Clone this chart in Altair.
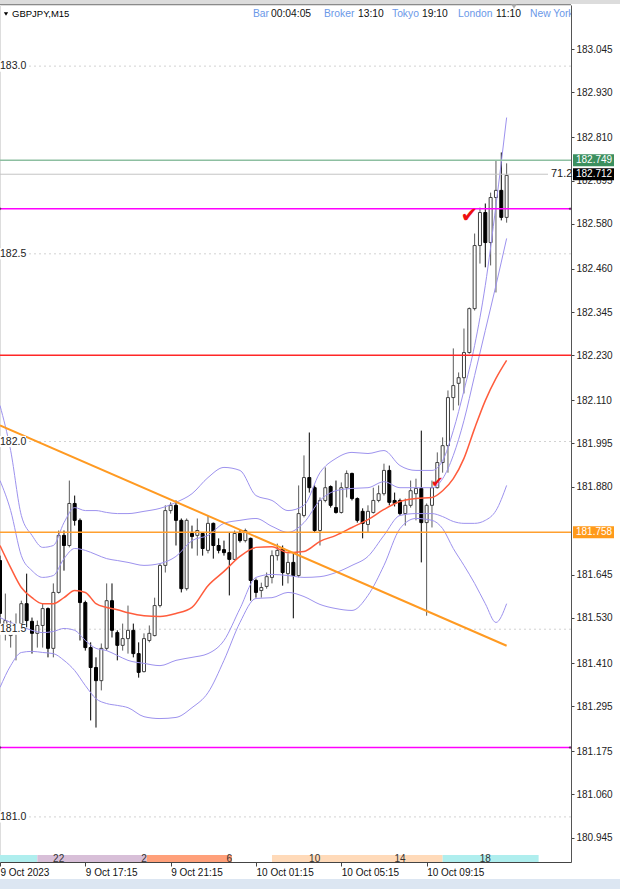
import altair as alt
import pandas as pd

# ---------------- data (GBPJPY M15, bar 0 = 9 Oct 2023 13:15) ----------------
opens = [181.683, 181.510, 181.483, 181.497, 181.515, 181.568, 181.521, 181.489, 181.510, 181.555,
         181.449, 181.598, 181.750, 181.723, 181.835, 181.790, 181.571, 181.451, 181.398, 181.363,
         181.449, 181.576, 181.491, 181.457, 181.475, 181.497, 181.435, 181.387, 181.470, 181.483,
         181.563, 181.670, 181.816, 181.830, 181.790, 181.608, 181.755, 181.750, 181.755, 181.710,
         181.782, 181.723, 181.712, 181.704, 181.686, 181.755, 181.736, 181.742, 181.630, 181.603,
         181.614, 181.638, 181.696, 181.715, 181.648, 181.678, 181.643, 181.803, 181.904, 181.877,
         181.763, 181.843, 181.880, 181.824, 181.811, 181.877, 181.915, 181.848, 181.814, 181.779,
         181.811, 181.843, 181.861, 181.923, 181.843, 181.843, 181.808, 181.830, 181.861, 181.875,
         181.784, 181.830, 181.877, 181.944, 181.989, 182.117, 182.155, 182.170, 182.237, 182.354,
         182.522, 182.610, 182.530, 182.650, 182.669, 182.597]
highs = [181.696, 181.595, 181.523, 181.542, 181.576, 181.648, 181.531, 181.523, 181.568, 181.558,
         181.622, 181.763, 181.763, 181.896, 181.856, 181.795, 181.576, 181.465, 181.425, 181.462,
         181.622, 181.622, 181.497, 181.515, 181.563, 181.515, 181.465, 181.489, 181.510, 181.584,
         181.675, 181.830, 181.838, 181.843, 181.795, 181.795, 181.776, 181.795, 181.758, 181.803,
         181.784, 181.742, 181.736, 181.758, 181.763, 181.766, 181.768, 181.744, 181.635, 181.624,
         181.651, 181.710, 181.728, 181.723, 181.702, 181.702, 181.883, 181.963, 182.024, 181.883,
         181.851, 181.931, 181.883, 181.896, 181.891, 181.923, 181.917, 181.851, 181.822, 181.830,
         181.877, 181.883, 181.941, 181.936, 181.864, 181.848, 181.848, 181.896, 181.901, 182.029,
         181.835, 181.896, 181.971, 182.011, 182.136, 182.248, 182.184, 182.301, 182.357, 182.554,
         182.623, 182.634, 182.663, 182.749, 182.770, 182.741]
lows = [181.510, 181.470, 181.451, 181.417, 181.491, 181.505, 181.435, 181.451, 181.451, 181.425,
        181.425, 181.595, 181.656, 181.718, 181.776, 181.470, 181.443, 181.257, 181.238, 181.337,
        181.443, 181.478, 181.417, 181.443, 181.435, 181.425, 181.371, 181.385, 181.465, 181.481,
        181.558, 181.651, 181.808, 181.723, 181.598, 181.603, 181.715, 181.696, 181.696, 181.702,
        181.688, 181.702, 181.696, 181.590, 181.683, 181.731, 181.731, 181.576, 181.584, 181.584,
        181.608, 181.622, 181.683, 181.616, 181.622, 181.529, 181.638, 181.798, 181.864, 181.758,
        181.723, 181.838, 181.824, 181.808, 181.808, 181.851, 181.843, 181.784, 181.742, 181.758,
        181.808, 181.838, 181.856, 181.830, 181.827, 181.803, 181.776, 181.824, 181.790, 181.678,
        181.536, 181.771, 181.875, 181.917, 181.917, 182.083, 182.096, 182.128, 182.234, 182.349,
        182.474, 182.464, 182.469, 182.397, 182.589, 182.583]
closes = [181.542, 181.523, 181.491, 181.505, 181.568, 181.523, 181.489, 181.510, 181.555, 181.449,
          181.598, 181.750, 181.723, 181.835, 181.790, 181.571, 181.451, 181.398, 181.363, 181.449,
          181.576, 181.497, 181.457, 181.475, 181.497, 181.435, 181.385, 181.475, 181.489, 181.563,
          181.670, 181.816, 181.830, 181.790, 181.608, 181.790, 181.747, 181.763, 181.715, 181.782,
          181.723, 181.710, 181.704, 181.686, 181.755, 181.736, 181.763, 181.630, 181.598, 181.611,
          181.640, 181.696, 181.710, 181.651, 181.678, 181.643, 181.808, 181.904, 181.877, 181.763,
          181.843, 181.877, 181.830, 181.811, 181.877, 181.915, 181.848, 181.790, 181.782, 181.814,
          181.843, 181.861, 181.923, 181.838, 181.835, 181.808, 181.830, 181.869, 181.875, 181.784,
          181.830, 181.877, 181.944, 181.989, 182.117, 182.149, 182.170, 182.237, 182.354, 182.522,
          182.610, 182.530, 182.650, 182.669, 182.597, 182.709]

# Bollinger-style envelope (bar index -> price)
band_idx = [0, 2, 4, 6, 8, 10, 12, 14, 16, 18, 20, 22, 24, 27, 30, 33, 36, 39, 42, 45,
            48, 51, 54, 57, 60, 63, 66, 69, 72, 75, 78, 81, 83, 85, 87, 89, 91, 93, 95]
upper2 = [182.096, 181.976, 181.803, 181.750, 181.718, 181.723, 181.784, 181.824, 181.816, 181.816,
          181.811, 181.808, 181.808, 181.814, 181.822, 181.838, 181.861, 181.904, 181.931, 181.923,
          181.856, 181.843, 181.816, 181.830, 181.917, 181.955, 181.971, 181.968, 181.976, 181.936,
          181.923, 181.923, 181.949, 182.029, 182.136, 182.256, 182.416, 182.629, 182.863]
upper1 = [181.896, 181.816, 181.696, 181.656, 181.638, 181.643, 181.688, 181.715, 181.710, 181.699,
          181.688, 181.683, 181.678, 181.670, 181.675, 181.694, 181.736, 181.750, 181.782, 181.790,
          181.795, 181.774, 181.758, 181.784, 181.843, 181.869, 181.875, 181.877, 181.893, 181.877,
          181.877, 181.877, 181.901, 181.963, 182.056, 182.176, 182.296, 182.416, 182.541]
middle = [181.723, 181.664, 181.611, 181.584, 181.568, 181.568, 181.584, 181.603, 181.598, 181.568,
          181.558, 181.552, 181.544, 181.536, 181.534, 181.542, 181.558, 181.616, 181.654, 181.694,
          181.718, 181.720, 181.704, 181.707, 181.734, 181.750, 181.771, 181.792, 181.819, 181.840,
          181.848, 181.851, 181.869, 181.901, 181.955, 182.035, 182.109, 182.168, 182.216]
lower1 = [181.531, 181.518, 181.507, 181.497, 181.491, 181.494, 181.502, 181.497, 181.470, 181.449,
          181.443, 181.430, 181.417, 181.409, 181.403, 181.417, 181.425, 181.435, 181.470, 181.555,
          181.638, 181.646, 181.643, 181.638, 181.640, 181.651, 181.670, 181.694, 181.750, 181.803,
          181.808, 181.808, 181.800, 181.787, 181.782, 181.782, 181.790, 181.816, 181.883]
lower2 = [181.345, 181.403, 181.438, 181.441, 181.438, 181.435, 181.417, 181.390, 181.350, 181.315,
          181.302, 181.297, 181.291, 181.267, 181.262, 181.265, 181.291, 181.331, 181.417, 181.518,
          181.582, 181.584, 181.598, 181.587, 181.566, 181.555, 181.550, 181.590, 181.670, 181.768,
          181.795, 181.790, 181.768, 181.715, 181.670, 181.622, 181.568, 181.518, 181.568]

trend_idx = [0, 95]
trend_price = [182.043, 181.456]

level_price = [182.749, 182.620, 182.230, 181.758, 181.185]
level_color = ["#8dbfa1", "#ff00ff", "#ff2626", "#ffa030", "#ff00ff"]

bid_price = 182.712
bid_note = "71.2"

round_levels = [183.0, 182.5, 182.0, 181.5, 181.0]
round_labels = ["183.0", "182.5", "182.0", "181.5", "181.0"]

price_ticks = [183.045, 182.930, 182.810, 182.695, 182.580, 182.460, 182.345, 182.230, 182.110,
               181.995, 181.880, 181.645, 181.530, 181.410, 181.295, 181.175, 181.060, 180.945]
price_boxes = [182.749, 182.712, 181.758]
price_box_colors = ["#3b8f5e", "#000000", "#ff9a1a"]

time_tick_idx = [0, 16, 32, 48, 64, 80]
time_tick_labels = ["9 Oct 2023", "9 Oct 17:15", "9 Oct 21:15", "10 Oct 01:15", "10 Oct 05:15", "10 Oct 09:15"]

sess_start = [0, 7, 27.5, 51, 83]
sess_end = [7, 27.5, 43.5, 83, 101]
sess_colors = ["#afeeee", "#d8bfd8", "#ffa07a", "#ffdab9", "#afeeee"]
hour_idx = [11, 27, 43, 59, 75, 91]
hour_labels = ["22", "2", "6", "10", "14", "18"]

check_idx = [88.0, 82.0]
check_price = [182.600, 181.893]

symbol_title = "GBPJPY,M15"
clock_words = ["Bar", "00:04:05", "Broker", "13:10", "Tokyo", "19:10", "London", "11:10", "New York"]

# ---------------- layout ----------------
W, H = 571, 857
FONT = "Liberation Sans"
xscale = alt.Scale(domain=[0, 107.07], nice=False, zero=False, padding=0)
yscale = alt.Scale(domain=[180.8799, 183.1628], nice=False, zero=False, padding=0)

label_expr = " : ".join(
    f"datum.value == {v} ? '{t}'" for v, t in zip(time_tick_idx, time_tick_labels)
) + " : ''"
xaxis = alt.Axis(values=time_tick_idx, labelExpr=label_expr, title=None, grid=False,
                 labelAlign="left", labelBaseline="top", labelFlush=False, labelOverlap=False,
                 tickSize=4, labelPadding=1, labelFontSize=10, labelFont=FONT,
                 labelColor="#111", domainColor="#444", tickColor="#444")
yaxis = alt.Axis(orient="right", values=price_ticks, format=".3f", title=None, grid=False,
                 labelFlush=False, labelOverlap=False, tickSize=3, labelPadding=2,
                 labelFontSize=10, labelFont=FONT, labelColor="#222",
                 domainColor="#555", tickColor="#444")


def X(f):
    return alt.X(f"{f}:Q", scale=xscale, axis=xaxis)


def Y(f):
    return alt.Y(f"{f}:Q", scale=yscale, axis=yaxis)


candles = pd.DataFrame({"k": range(len(opens)), "o": opens, "h": highs, "l": lows, "c": closes})
up = "datum.c >= datum.o"

grid = alt.Chart(pd.DataFrame({"p": round_levels})).mark_rule(
    color="#d2d2d2", strokeDash=[2, 3], strokeWidth=1).encode(y=Y("p"))

sess = pd.DataFrame({"s": sess_start, "e": sess_end, "col": sess_colors})
sess_layer = alt.Chart(sess).mark_rect().encode(
    x=X("s"), x2="e:Q", y=alt.value(850), y2=alt.value(857),
    color=alt.Color("col:N", scale=None))
hours = alt.Chart(pd.DataFrame({"k": hour_idx, "t": hour_labels})).mark_text(
    font=FONT, fontSize=10, color="#333", baseline="middle").encode(
    x=X("k"), y=alt.value(853.5), text="t:N")

wicks = alt.Chart(candles).mark_rule(strokeWidth=1).encode(
    x=X("k"), y=Y("l"), y2="h:Q",
    color=alt.condition(up, alt.value("#5a5a5a"), alt.value("#000000")))
bodies = alt.Chart(candles).mark_bar(width=3, strokeWidth=1).encode(
    x=X("k"), y=Y("o"), y2="c:Q",
    fill=alt.condition(up, alt.value("#ffffff"), alt.value("#000000")),
    stroke=alt.condition(up, alt.value("#404040"), alt.value("#000000")))

band_rows = []
for name, vals in [("u2", upper2), ("u1", upper1), ("l1", lower1), ("l2", lower2)]:
    for k, v in zip(band_idx, vals):
        band_rows.append({"k": k, "p": v, "line": name})
bands = alt.Chart(pd.DataFrame(band_rows)).mark_line(
    color="#9d92ee", strokeWidth=1, interpolate="monotone", clip=True).encode(
    x=X("k"), y=Y("p"), detail="line:N")
mid = alt.Chart(pd.DataFrame({"k": band_idx, "p": middle})).mark_line(
    color="#ff5c3c", strokeWidth=1.5, interpolate="monotone").encode(x=X("k"), y=Y("p"))

trend = alt.Chart(pd.DataFrame({"k": trend_idx, "p": trend_price})).mark_line(
    color="#ff9a22", strokeWidth=2).encode(x=X("k"), y=Y("p"))

levels = alt.Chart(pd.DataFrame({"p": level_price, "col": level_color})).mark_rule(
    strokeWidth=1.5).encode(y=Y("p"), color=alt.Color("col:N", scale=None))
anchors = alt.Chart(pd.DataFrame({"k": [0, 106.9, 0, 106.9],
                                  "p": [level_price[1], level_price[1], level_price[4], level_price[4]]})
                    ).mark_point(shape="diamond", filled=True, size=10, color="#333").encode(
    x=X("k"), y=Y("p"))

bid = alt.Chart(pd.DataFrame({"p": [bid_price]})).mark_rule(color="#c4c4c4", strokeWidth=1).encode(
    x=alt.value(0), x2=alt.value(548), y=Y("p"))
bid_txt = alt.Chart(pd.DataFrame({"p": [bid_price], "t": [bid_note]})).mark_text(
    font=FONT, fontSize=11, color="#222", align="left", baseline="middle").encode(
    x=alt.value(551), y=Y("p"), text="t:N")

checks = alt.Chart(pd.DataFrame({"k": check_idx, "p": check_price, "s": [21, 15]})).mark_text(
    font="DejaVu Sans", color="#ee1111", baseline="middle").encode(
    x=X("k"), y=Y("p"), text=alt.value("\u2714"), size=alt.Size("s:Q", scale=None))

rl = pd.DataFrame({"p": round_levels, "t": round_labels})
rl_bg = alt.Chart(rl).transform_calculate(lo="datum.p - 0.015", hi="datum.p + 0.015").mark_rect(
    color="#ffffff").encode(x=alt.value(0), x2=alt.value(26), y=Y("lo"), y2="hi:Q")
rl_txt = alt.Chart(rl).mark_text(font=FONT, fontSize=10.5, color="#222", align="left",
                                 baseline="middle").encode(x=alt.value(0), y=Y("p"), text="t:N")

bx = pd.DataFrame({"p": price_boxes, "col": price_box_colors,
                   "t": [f"{v:.3f}" for v in price_boxes]})
box_rect = alt.Chart(bx).transform_calculate(lo="datum.p - 0.016", hi="datum.p + 0.016").mark_rect().encode(
    x=alt.value(573), x2=alt.value(614), y=Y("lo"), y2="hi:Q",
    color=alt.Color("col:N", scale=None))
box_txt = alt.Chart(bx).mark_text(font=FONT, fontSize=10, color="#ffffff", align="left",
                                  baseline="middle").encode(x=alt.value(576), y=Y("p"), text="t:N")

# header / frame pieces
top_strip = alt.Chart(pd.DataFrame({"a": [0]})).mark_rect(color="#dcdcdc").encode(
    x=alt.value(0), x2=alt.value(620), y=alt.value(-5), y2=alt.value(-1))
top_line = alt.Chart(pd.DataFrame({"a": [0]})).mark_rule(color="#8a8a8a", strokeWidth=1).encode(
    x=alt.value(0), x2=alt.value(571), y=alt.value(-0.5))
bottom_strip = alt.Chart(pd.DataFrame({"a": [0]})).mark_rect(color="#dce6f2").encode(
    x=alt.value(0), x2=alt.value(620), y=alt.value(874), y2=alt.value(884))
shift_mark = alt.Chart(pd.DataFrame({"a": [0]})).mark_point(
    shape="triangle-down", filled=True, size=30, color="#a8a8a8", opacity=1).encode(
    x=alt.value(514), y=alt.value(1.5))

title_tri = alt.Chart(pd.DataFrame({"a": [0]})).mark_point(
    shape="triangle-down", filled=True, size=18, color="#000", opacity=1).encode(
    x=alt.value(6), y=alt.value(9))
title_txt = alt.Chart(pd.DataFrame({"t": [symbol_title]})).mark_text(
    font=FONT, fontSize=9.5, color="#000", align="left", baseline="middle").encode(
    x=alt.value(12), y=alt.value(9), text="t:N")

clock_x = [253, 271, 324, 358, 392, 422, 458, 496, 530]
clock_col = ["#6a98e8", "#111111", "#6a98e8", "#111111", "#6a98e8", "#111111", "#6a98e8", "#111111", "#6a98e8"]
clock_layers = []
for word, xx, col in zip(clock_words, clock_x, clock_col):
    clock_layers.append(
        alt.Chart(pd.DataFrame({"t": [word]})).mark_text(
            font=FONT, fontSize=10.3, color=col, align="left", baseline="middle", clip=True).encode(
            x=alt.value(xx), y=alt.value(9), text="t:N"))

chart = alt.layer(
    top_strip, bottom_strip, grid, sess_layer, hours, wicks, bodies, bands, mid, trend,
    levels, anchors, bid, bid_txt, checks, rl_bg, rl_txt, box_rect, box_txt,
    top_line, shift_mark, title_tri, title_txt, *clock_layers
).properties(
    width=W, height=H,
    padding={"left": 0, "top": 5, "right": 49, "bottom": 27},
    autosize=alt.AutoSizeParams(type="none"),
    background="#ffffff",
).configure_view(stroke=None).configure(font=FONT)

chart.save("out.html", embed_options={"renderer": "svg", "actions": False})
